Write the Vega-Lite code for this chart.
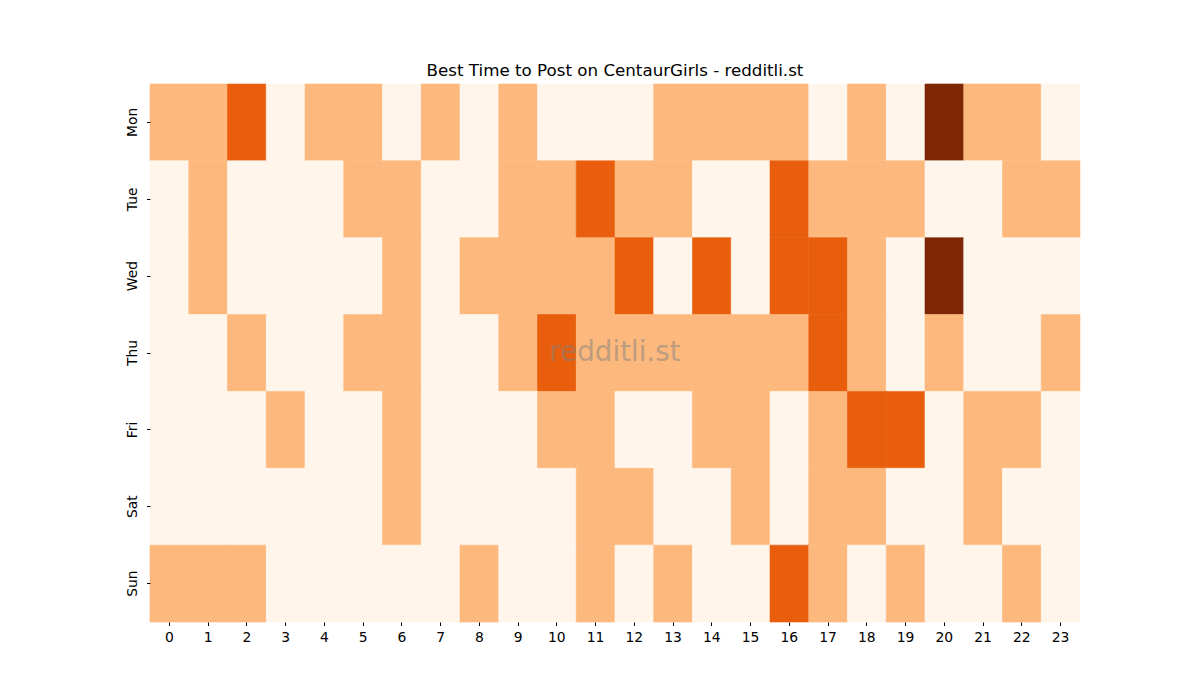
{
  "$schema": "https://vega.github.io/schema/vega-lite/v6.json",
  "width": 930,
  "height": 538,
  "autosize": "none",
  "padding": {"left": 150, "top": 84, "right": 120, "bottom": 78},
  "background": "white",
  "config": {
    "font": "DejaVu Sans",
    "view": {"stroke": null},
    "axis": {
      "domain": false,
      "grid": false,
      "ticks": true,
      "tickSize": 3.5,
      "tickColor": "black",
      "labelColor": "black",
      "labelFontSize": 13.9,
      "labelPadding": 3.5,
      "title": null
    }
  },
  "title": {
    "text": "Best Time to Post on CentaurGirls - redditli.st",
    "fontSize": 16.7,
    "fontWeight": "normal",
    "color": "black",
    "anchor": "middle",
    "offset": 4
  },
  "layer": [
    {
      "data": {
        "values": [
          {"d":"Mon","h":0,"v":1},{"d":"Mon","h":1,"v":1},{"d":"Mon","h":2,"v":2},{"d":"Mon","h":3,"v":0},{"d":"Mon","h":4,"v":1},{"d":"Mon","h":5,"v":1},{"d":"Mon","h":6,"v":0},{"d":"Mon","h":7,"v":1},{"d":"Mon","h":8,"v":0},{"d":"Mon","h":9,"v":1},{"d":"Mon","h":10,"v":0},{"d":"Mon","h":11,"v":0},{"d":"Mon","h":12,"v":0},{"d":"Mon","h":13,"v":1},{"d":"Mon","h":14,"v":1},{"d":"Mon","h":15,"v":1},{"d":"Mon","h":16,"v":1},{"d":"Mon","h":17,"v":0},{"d":"Mon","h":18,"v":1},{"d":"Mon","h":19,"v":0},{"d":"Mon","h":20,"v":3},{"d":"Mon","h":21,"v":1},{"d":"Mon","h":22,"v":1},{"d":"Mon","h":23,"v":0},
          {"d":"Tue","h":0,"v":0},{"d":"Tue","h":1,"v":1},{"d":"Tue","h":2,"v":0},{"d":"Tue","h":3,"v":0},{"d":"Tue","h":4,"v":0},{"d":"Tue","h":5,"v":1},{"d":"Tue","h":6,"v":1},{"d":"Tue","h":7,"v":0},{"d":"Tue","h":8,"v":0},{"d":"Tue","h":9,"v":1},{"d":"Tue","h":10,"v":1},{"d":"Tue","h":11,"v":2},{"d":"Tue","h":12,"v":1},{"d":"Tue","h":13,"v":1},{"d":"Tue","h":14,"v":0},{"d":"Tue","h":15,"v":0},{"d":"Tue","h":16,"v":2},{"d":"Tue","h":17,"v":1},{"d":"Tue","h":18,"v":1},{"d":"Tue","h":19,"v":1},{"d":"Tue","h":20,"v":0},{"d":"Tue","h":21,"v":0},{"d":"Tue","h":22,"v":1},{"d":"Tue","h":23,"v":1},
          {"d":"Wed","h":0,"v":0},{"d":"Wed","h":1,"v":1},{"d":"Wed","h":2,"v":0},{"d":"Wed","h":3,"v":0},{"d":"Wed","h":4,"v":0},{"d":"Wed","h":5,"v":0},{"d":"Wed","h":6,"v":1},{"d":"Wed","h":7,"v":0},{"d":"Wed","h":8,"v":1},{"d":"Wed","h":9,"v":1},{"d":"Wed","h":10,"v":1},{"d":"Wed","h":11,"v":1},{"d":"Wed","h":12,"v":2},{"d":"Wed","h":13,"v":0},{"d":"Wed","h":14,"v":2},{"d":"Wed","h":15,"v":0},{"d":"Wed","h":16,"v":2},{"d":"Wed","h":17,"v":2},{"d":"Wed","h":18,"v":1},{"d":"Wed","h":19,"v":0},{"d":"Wed","h":20,"v":3},{"d":"Wed","h":21,"v":0},{"d":"Wed","h":22,"v":0},{"d":"Wed","h":23,"v":0},
          {"d":"Thu","h":0,"v":0},{"d":"Thu","h":1,"v":0},{"d":"Thu","h":2,"v":1},{"d":"Thu","h":3,"v":0},{"d":"Thu","h":4,"v":0},{"d":"Thu","h":5,"v":1},{"d":"Thu","h":6,"v":1},{"d":"Thu","h":7,"v":0},{"d":"Thu","h":8,"v":0},{"d":"Thu","h":9,"v":1},{"d":"Thu","h":10,"v":2},{"d":"Thu","h":11,"v":1},{"d":"Thu","h":12,"v":1},{"d":"Thu","h":13,"v":1},{"d":"Thu","h":14,"v":1},{"d":"Thu","h":15,"v":1},{"d":"Thu","h":16,"v":1},{"d":"Thu","h":17,"v":2},{"d":"Thu","h":18,"v":1},{"d":"Thu","h":19,"v":0},{"d":"Thu","h":20,"v":1},{"d":"Thu","h":21,"v":0},{"d":"Thu","h":22,"v":0},{"d":"Thu","h":23,"v":1},
          {"d":"Fri","h":0,"v":0},{"d":"Fri","h":1,"v":0},{"d":"Fri","h":2,"v":0},{"d":"Fri","h":3,"v":1},{"d":"Fri","h":4,"v":0},{"d":"Fri","h":5,"v":0},{"d":"Fri","h":6,"v":1},{"d":"Fri","h":7,"v":0},{"d":"Fri","h":8,"v":0},{"d":"Fri","h":9,"v":0},{"d":"Fri","h":10,"v":1},{"d":"Fri","h":11,"v":1},{"d":"Fri","h":12,"v":0},{"d":"Fri","h":13,"v":0},{"d":"Fri","h":14,"v":1},{"d":"Fri","h":15,"v":1},{"d":"Fri","h":16,"v":0},{"d":"Fri","h":17,"v":1},{"d":"Fri","h":18,"v":2},{"d":"Fri","h":19,"v":2},{"d":"Fri","h":20,"v":0},{"d":"Fri","h":21,"v":1},{"d":"Fri","h":22,"v":1},{"d":"Fri","h":23,"v":0},
          {"d":"Sat","h":0,"v":0},{"d":"Sat","h":1,"v":0},{"d":"Sat","h":2,"v":0},{"d":"Sat","h":3,"v":0},{"d":"Sat","h":4,"v":0},{"d":"Sat","h":5,"v":0},{"d":"Sat","h":6,"v":1},{"d":"Sat","h":7,"v":0},{"d":"Sat","h":8,"v":0},{"d":"Sat","h":9,"v":0},{"d":"Sat","h":10,"v":0},{"d":"Sat","h":11,"v":1},{"d":"Sat","h":12,"v":1},{"d":"Sat","h":13,"v":0},{"d":"Sat","h":14,"v":0},{"d":"Sat","h":15,"v":1},{"d":"Sat","h":16,"v":0},{"d":"Sat","h":17,"v":1},{"d":"Sat","h":18,"v":1},{"d":"Sat","h":19,"v":0},{"d":"Sat","h":20,"v":0},{"d":"Sat","h":21,"v":1},{"d":"Sat","h":22,"v":0},{"d":"Sat","h":23,"v":0},
          {"d":"Sun","h":0,"v":1},{"d":"Sun","h":1,"v":1},{"d":"Sun","h":2,"v":1},{"d":"Sun","h":3,"v":0},{"d":"Sun","h":4,"v":0},{"d":"Sun","h":5,"v":0},{"d":"Sun","h":6,"v":0},{"d":"Sun","h":7,"v":0},{"d":"Sun","h":8,"v":1},{"d":"Sun","h":9,"v":0},{"d":"Sun","h":10,"v":0},{"d":"Sun","h":11,"v":1},{"d":"Sun","h":12,"v":0},{"d":"Sun","h":13,"v":1},{"d":"Sun","h":14,"v":0},{"d":"Sun","h":15,"v":0},{"d":"Sun","h":16,"v":2},{"d":"Sun","h":17,"v":1},{"d":"Sun","h":18,"v":0},{"d":"Sun","h":19,"v":1},{"d":"Sun","h":20,"v":0},{"d":"Sun","h":21,"v":0},{"d":"Sun","h":22,"v":1},{"d":"Sun","h":23,"v":0}
        ]
      },
      "mark": {"type": "rect", "strokeWidth": 0.6},
      "encoding": {
        "x": {
          "field": "h",
          "type": "ordinal",
          "sort": "ascending",
          "scale": {"paddingInner": 0, "paddingOuter": 0},
          "axis": {"labelAngle": 0, "labelPadding": 5}
        },
        "y": {
          "field": "d",
          "type": "ordinal",
          "sort": ["Mon", "Tue", "Wed", "Thu", "Fri", "Sat", "Sun"],
          "scale": {"paddingInner": 0, "paddingOuter": 0},
          "axis": {"labelAngle": -90, "labelAlign": "center", "labelBaseline": "bottom", "labelPadding": 7}
        },
        "color": {
          "field": "v",
          "type": "ordinal",
          "scale": {
            "domain": [0, 1, 2, 3],
            "range": ["#fff5eb", "#fdb97d", "#e95e0d", "#7f2704"]
          },
          "legend": null
        },
        "stroke": {
          "field": "v",
          "type": "ordinal",
          "scale": {
            "domain": [0, 1, 2, 3],
            "range": ["#fff5eb", "#fdb97d", "#e95e0d", "#7f2704"]
          },
          "legend": null
        }
      }
    },
    {
      "data": {"values": [{"t": "redditli.st"}]},
      "mark": {
        "type": "text",
        "fontSize": 27.8,
        "color": "#808080",
        "opacity": 0.5,
        "align": "center",
        "baseline": "middle"
      },
      "encoding": {"text": {"field": "t"}}
    }
  ]
}
